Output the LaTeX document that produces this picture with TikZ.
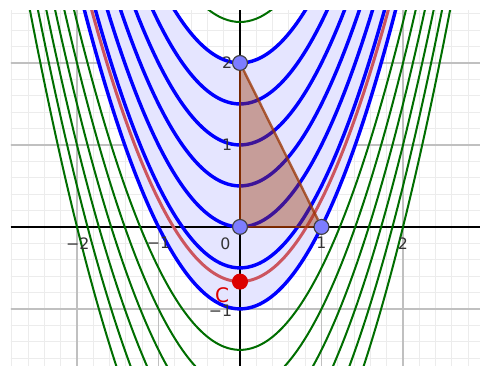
\documentclass[tikz,border=0pt]{standalone}
\usepackage{fontspec}
\setsansfont{DejaVu Sans}
\usepackage{tikz}

\definecolor{curveblue}{RGB}{0,0,255}
\definecolor{curvegreen}{RGB}{0,110,0}
\definecolor{curvered}{RGB}{204,85,95}
\definecolor{bandfill}{RGB}{229,229,255}
\definecolor{tribrown}{RGB}{153,51,0}
\definecolor{pointblue}{RGB}{125,125,255}
\definecolor{pointred}{RGB}{220,0,0}
\definecolor{minorgrid}{RGB}{236,236,236}
\definecolor{majorgrid}{RGB}{192,192,192}

\begin{document}
\begin{tikzpicture}
[x=1cm, y=1.006cm,
 every node/.style={inner sep=0pt},
 bluecurve/.style={line width=1.2pt, color=curveblue},
 greencurve/.style={line width=0.7pt, color=curvegreen},
 redcurve/.style={line width=1.05pt, color=curvered},
 triedge/.style={line width=0.85pt, color=tribrown, opacity=0.75},
 ptnode/.style={circle, minimum size=5.2pt, fill=pointblue, line width=0.4pt, draw=black!75},
 ticklabel/.style={font=\sffamily\fontsize{5.5}{6}\selectfont, text=black!80}]
\useasboundingbox (-2.945,-1.695) rectangle (2.945,2.768);
\fill [white] (-2.945,-1.695) rectangle (2.945,2.768);
\begin{scope}
\clip (-2.81,-1.695) rectangle (2.945,2.646);
\draw [line width=0.35pt, color=minorgrid, step=0.2] (-3,-2) grid (3,3);
\draw [line width=0.45pt, color=majorgrid, step=1] (-3,-2) grid (3,3);
% band between the c=-1 and c=2 parabolas
\fill [bandfill] plot[domain=-3:3, samples=121, smooth] (\x,{\x*\x-1}) -- plot[domain=3:-3, samples=121, smooth] (\x,{\x*\x+2}) -- cycle;
\coordinate (xl) at (-2.81,0);
\coordinate (xr) at (2.945,0);
\coordinate (yb) at (0,-1.695);
\coordinate (yt) at (0,2.646);
\draw [line width=0.5pt, color=black] (xl) -- (xr);
\draw [line width=0.5pt, color=black] (yb) -- (yt);
\draw [greencurve] plot[domain=-3:3, samples=121, smooth] (\x,{\x*\x+2.5});
\draw [greencurve] plot[domain=-3:3, samples=121, smooth] (\x,{\x*\x-1.5});
\draw [greencurve] plot[domain=-3:3, samples=121, smooth] (\x,{\x*\x-2});
\draw [greencurve] plot[domain=-3:3, samples=121, smooth] (\x,{\x*\x-2.5});
\draw [greencurve] plot[domain=-3:3, samples=121, smooth] (\x,{\x*\x-3});
\draw [greencurve] plot[domain=-3:3, samples=121, smooth] (\x,{\x*\x-3.5});
\draw [greencurve] plot[domain=-3:3, samples=121, smooth] (\x,{\x*\x-4});
\draw [bluecurve] plot[domain=-3:3, samples=121, smooth] (\x,{\x*\x+2});
\draw [bluecurve] plot[domain=-3:3, samples=121, smooth] (\x,{\x*\x+1.5});
\draw [bluecurve] plot[domain=-3:3, samples=121, smooth] (\x,{\x*\x+1});
\draw [bluecurve] plot[domain=-3:3, samples=121, smooth] (\x,{\x*\x+0.5});
\draw [bluecurve] plot[domain=-3:3, samples=121, smooth] (\x,{\x*\x});
\draw [bluecurve] plot[domain=-3:3, samples=121, smooth] (\x,{\x*\x-0.5});
\draw [bluecurve] plot[domain=-3:3, samples=121, smooth] (\x,{\x*\x-1});
\draw [redcurve] plot[domain=-3:3, samples=121, smooth] (\x,{\x*\x-2/3});
\end{scope}
% triangle
\coordinate (a) at (0,2);
\coordinate (o) at (0,0);
\coordinate (b) at (1,0);
\fill [tribrown, opacity=0.4] (a) -- (o) -- (b) -- cycle;
\node (A) [ptnode] at (a) {};
\node (O) [ptnode] at (o) {};
\node (B) [ptnode] at (b) {};
\node (C) [circle, minimum size=5.2pt, fill=pointred, draw=pointred, line width=0.4pt] at (0,-0.667) {};
\draw [triedge] (A) -- (O);
\draw [triedge] (O) -- (B);
\draw [triedge] (B) -- (A);
\node (lc) at (-0.22,-0.83) {\textcolor{pointred}{\sffamily\fontsize{7}{8}\selectfont C}};
% tick labels
\node (tx1) [ticklabel, anchor=north] at (-1.99,-0.12) {−2};
\node (tx2) [ticklabel, anchor=north] at (-1.0,-0.12) {−1};
\node (tx3) [ticklabel, anchor=north] at (-0.18,-0.12) {0};
\node (tx4) [ticklabel, anchor=north] at (1.0,-0.12) {1};
\node (tx5) [ticklabel, anchor=north] at (2.0,-0.12) {2};
\node (ty1) [ticklabel, anchor=east] at (-0.09,2) {2};
\node (ty2) [ticklabel, anchor=east] at (-0.09,1) {1};
\node (ty3) [ticklabel, anchor=east] at (-0.09,-1.02) {−1};
\end{tikzpicture}
\end{document}
